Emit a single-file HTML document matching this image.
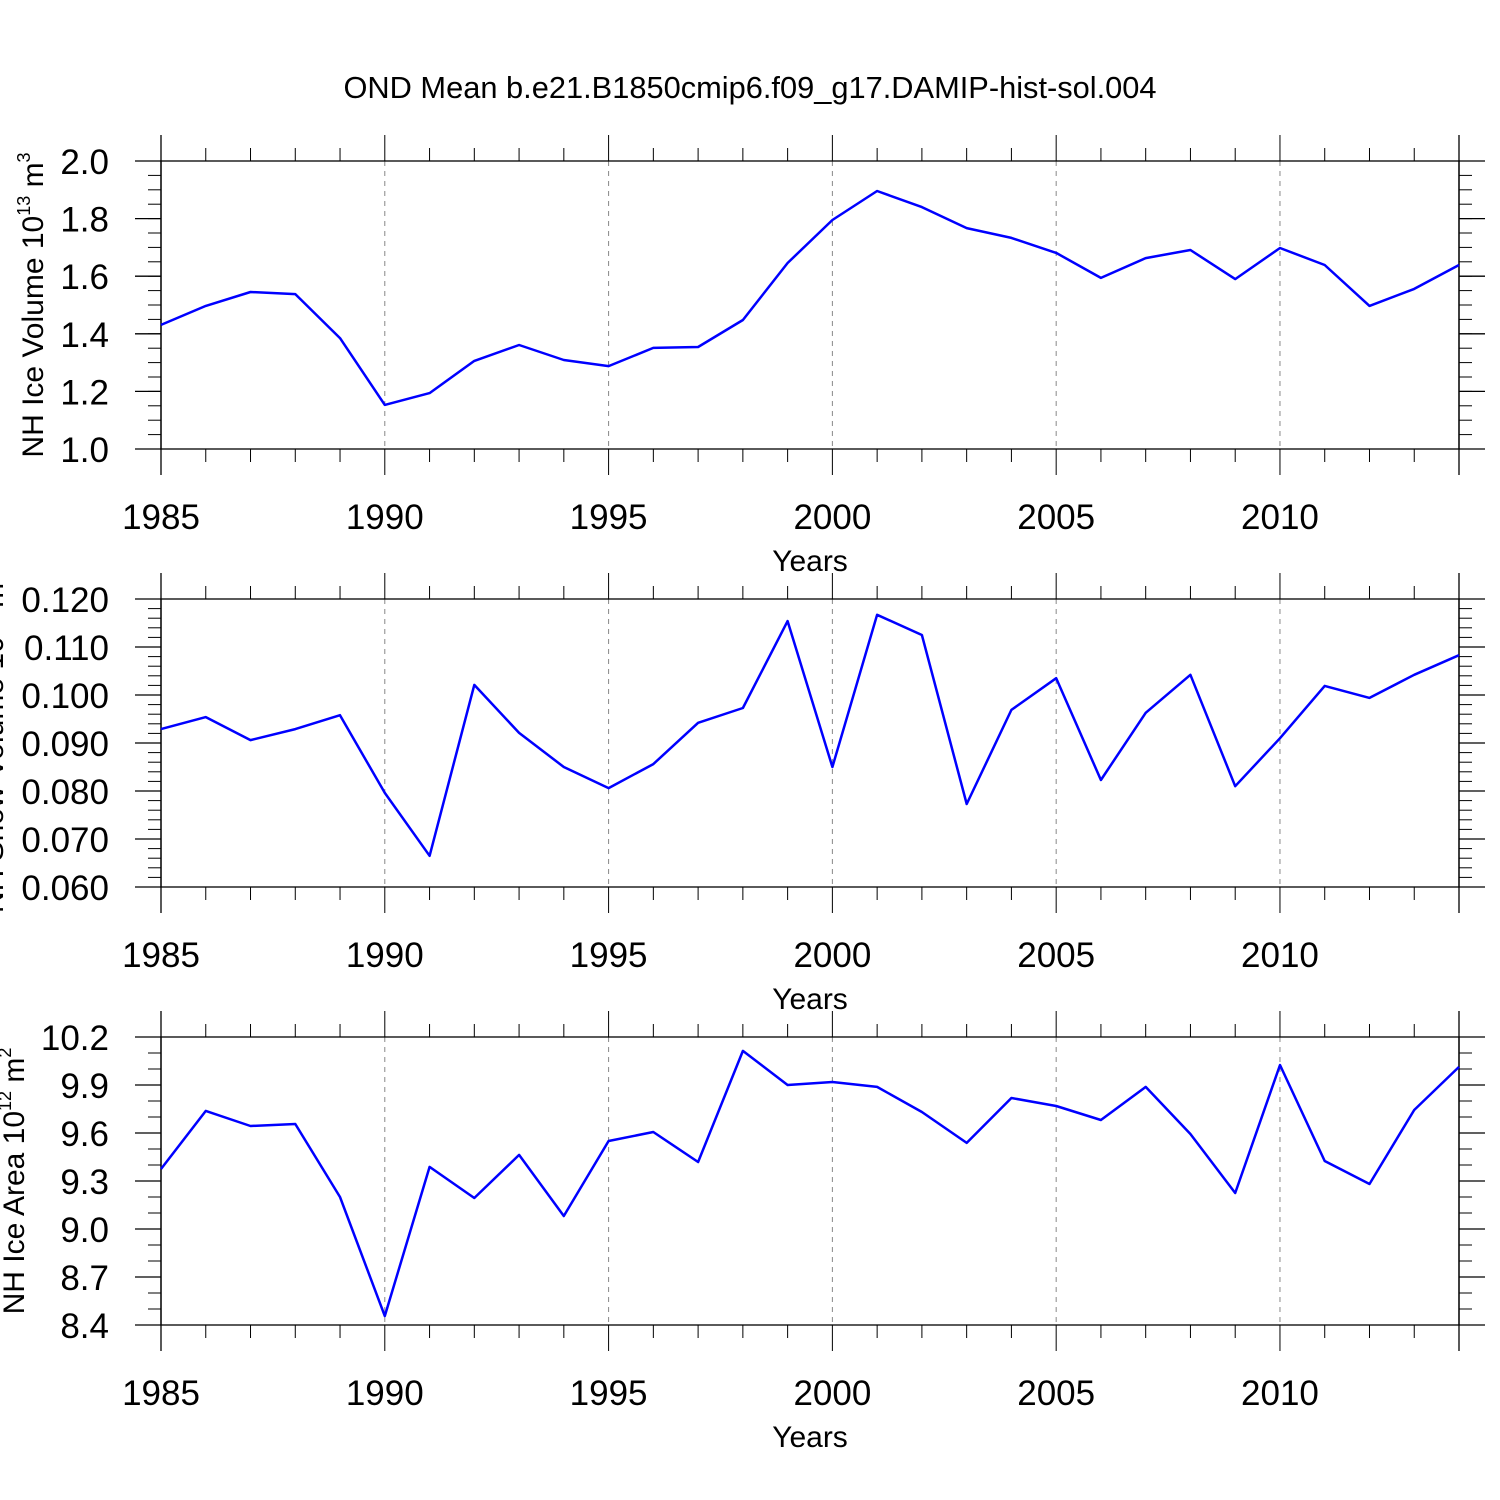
<!DOCTYPE html>
<html><head><meta charset="utf-8"><style>
html,body{margin:0;padding:0;background:#fff;}
svg{display:block;font-family:"Liberation Sans",sans-serif;}
</style></head><body>
<svg id="chart" width="1500" height="1500" viewBox="0 0 1500 1500" xmlns="http://www.w3.org/2000/svg">
<text x="750" y="98" font-size="30.8" text-anchor="middle">OND Mean b.e21.B1850cmip6.f09_g17.DAMIP-hist-sol.004</text>
</svg>
<script>
const years = [1985,1986,1987,1988,1989,1990,1991,1992,1993,1994,1995,1996,1997,1998,1999,2000,2001,2002,2003,2004,2005,2006,2007,2008,2009,2010,2011,2012,2013,2014];
const iceVolume = [1.431,1.497,1.545,1.538,1.385,1.153,1.194,1.306,1.361,1.309,1.288,1.351,1.354,1.448,1.646,1.795,1.896,1.840,1.767,1.733,1.681,1.594,1.663,1.691,1.590,1.698,1.639,1.497,1.556,1.639];
const snowVolume = [0.0929,0.0954,0.0906,0.0929,0.0958,0.0796,0.0665,0.1021,0.0921,0.0850,0.0806,0.0856,0.0942,0.0973,0.1154,0.0850,0.1167,0.1125,0.0773,0.0969,0.1035,0.0823,0.0963,0.1042,0.0810,0.0910,0.1019,0.0994,0.1042,0.1083];
const iceArea = [9.375,9.738,9.644,9.656,9.200,8.456,9.388,9.194,9.463,9.081,9.550,9.606,9.419,10.113,9.900,9.919,9.888,9.731,9.538,9.819,9.769,9.681,9.888,9.594,9.225,10.025,9.425,9.281,9.744,10.013];
const xTickLabels = [1985,1990,1995,2000,2005,2010];
const volTicks = ["1.0","1.2","1.4","1.6","1.8","2.0"];
const snowTicks = ["0.060","0.070","0.080","0.090","0.100","0.110","0.120"];
const areaTicks = ["8.4","8.7","9.0","9.3","9.6","9.9","10.2"];

const NS="http://www.w3.org/2000/svg";
const svg=document.getElementById('chart');
const L=161,R=1459,H=288;
function mk(tag,attrs,parent){const e=document.createElementNS(NS,tag);for(const k in attrs)e.setAttribute(k,attrs[k]);(parent||svg).appendChild(e);return e;}
function xs(y){return L+(y-1985)*(R-L)/(2014-1985);}

function panel(idx,top,data,ticks,ymin,ymax,minorStep,label,labelX,exp,unitExp){
  const g=mk('g',{});
  
  
  const bot=top+H;
  const ys=v=>bot-(v-ymin)/(ymax-ymin)*H;
  xTickLabels.slice(1).forEach(yr=>{
    const l=mk('line',{x1:xs(yr),x2:xs(yr),y1:top,y2:bot,stroke:'#888','stroke-width':1,'stroke-dasharray':'5,5'},g);
    
    
  });
  const f=mk('rect',{x:L,y:top,width:R-L,height:H,fill:'none',stroke:'#000','stroke-width':1.3},g);
  
  
  mk('line',{x1:L,x2:L,y1:top-26,y2:bot+26,stroke:'#000','stroke-width':1.3},g);
  mk('line',{x1:R,x2:R,y1:top-26,y2:bot+26,stroke:'#000','stroke-width':1.3},g);
  for(let yr=1985;yr<=2014;yr++){
    const len=(yr%5===0)?26:13;
    mk('line',{x1:xs(yr),x2:xs(yr),y1:top,y2:top-len,stroke:'#000','stroke-width':1},g);
    mk('line',{x1:xs(yr),x2:xs(yr),y1:bot,y2:bot+len,stroke:'#000','stroke-width':1},g);
  }
  xTickLabels.forEach(yr=>{
    const t=mk('text',{x:xs(yr),y:bot+80,'font-size':35,'text-anchor':'middle'},g);
    t.textContent=yr;
    
    
  });
  const xt=mk('text',{x:810,y:bot+122,'font-size':30,'text-anchor':'middle'},g);
  xt.textContent='Years';
  
  
  const n=Math.round((ymax-ymin)/minorStep);
  for(let i=0;i<=n;i++){
    const y=bot-i*H/n;
    mk('line',{x1:L,x2:L-13,y1:y,y2:y,stroke:'#000','stroke-width':1},g);
    mk('line',{x1:R,x2:R+13,y1:y,y2:y,stroke:'#000','stroke-width':1},g);
  }
  ticks.forEach(s=>{
    const y=ys(parseFloat(s));
    mk('line',{x1:L,x2:L-26,y1:y,y2:y,stroke:'#000','stroke-width':1.3},g);
    mk('line',{x1:R,x2:R+26,y1:y,y2:y,stroke:'#000','stroke-width':1.3},g);
    const t=mk('text',{x:109,y:y+13,'font-size':35,'text-anchor':'end'},g);
    t.textContent=s;
    
    
  });
  const cy=top+H/2;
  const yt=mk('text',{x:labelX,y:cy,'font-size':30,'text-anchor':'middle',transform:`rotate(-90 ${labelX} ${cy})`},g);
  
  
  const t1=mk('tspan',{},yt);t1.textContent=label+' 10';
  const t2=mk('tspan',{dy:-13,'font-size':18},yt);t2.textContent=exp;
  const t3=mk('tspan',{dy:13},yt);t3.textContent=' m';
  const t4=mk('tspan',{dy:-13,'font-size':18},yt);t4.textContent=unitExp;
  const pts=data.map((v,i)=>xs(years[i]).toFixed(1)+','+ys(v).toFixed(1)).join(' ');
  const p=mk('polyline',{points:pts,fill:'none',stroke:'#0000ff','stroke-width':2.5,'stroke-linejoin':'round'},g);
  
  
}
panel(1,161,iceVolume,volTicks,1.0,2.0,0.05,'NH Ice Volume',43,'13','3');
panel(2,599,snowVolume,snowTicks,0.060,0.120,0.002,'NH Snow Volume',3,'13','3');
panel(3,1037,iceArea,areaTicks,8.4,10.2,0.1,'NH Ice Area',24,'12','2');
</script>
</body></html>
